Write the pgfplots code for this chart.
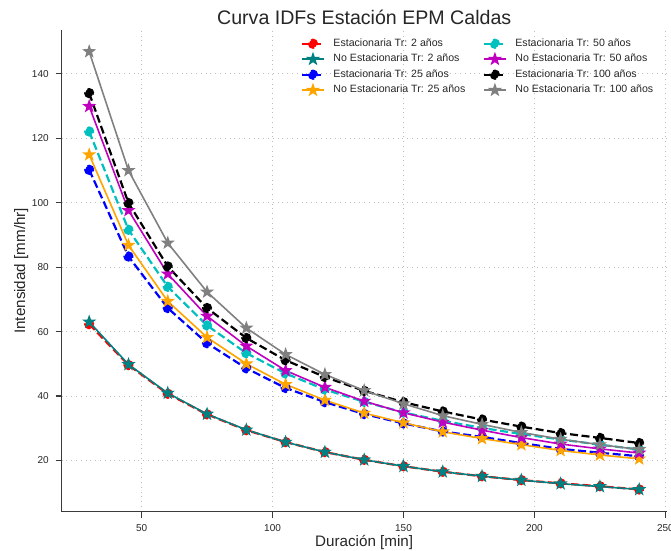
\documentclass[border=0pt]{standalone}
\usepackage{fontspec}
\setmainfont{Liberation Sans}
\usepackage{pgfplots}
\pgfplotsset{compat=1.18}
\usepackage{pgfplotstable}

\definecolor{txt}{HTML}{262626}
\definecolor{spine}{HTML}{3A3A3A}
\definecolor{gridc}{HTML}{BDBDBD}
\definecolor{tealc}{HTML}{008080}
\definecolor{orangec}{HTML}{FFA500}
\definecolor{cyanc}{rgb}{0,0.75,0.75}
\definecolor{magc}{rgb}{0.75,0,0.75}
\definecolor{grayc}{HTML}{808080}

% filled five-pointed star, like matplotlib's '*'
\pgfdeclareplotmark{fstar}{%
  \pgfpathmoveto{\pgfqpointpolar{90}{\pgfplotmarksize}}%
  \pgfpathlineto{\pgfqpointpolar{126}{0.4\pgfplotmarksize}}%
  \pgfpathlineto{\pgfqpointpolar{162}{\pgfplotmarksize}}%
  \pgfpathlineto{\pgfqpointpolar{198}{0.4\pgfplotmarksize}}%
  \pgfpathlineto{\pgfqpointpolar{234}{\pgfplotmarksize}}%
  \pgfpathlineto{\pgfqpointpolar{270}{0.4\pgfplotmarksize}}%
  \pgfpathlineto{\pgfqpointpolar{306}{\pgfplotmarksize}}%
  \pgfpathlineto{\pgfqpointpolar{342}{0.4\pgfplotmarksize}}%
  \pgfpathlineto{\pgfqpointpolar{18}{\pgfplotmarksize}}%
  \pgfpathlineto{\pgfqpointpolar{54}{0.4\pgfplotmarksize}}%
  \pgfpathclose
  \pgfusepathqfillstroke}

% duracion [min] vs intensidad [mm/hr]
\pgfplotstableread{
d    e2    n2    e25   n25   e50   n50   e100  n100
30   62.3  63.0  110.2 114.9 122.1 129.9 134.0 146.9
45   49.6  49.8  83.3  86.8  91.6  97.6  99.9  110.0
60   40.7  40.9  67.3  69.4  73.9  77.9  80.2  87.5
75   34.3  34.4  56.4  58.2  61.9  64.8  67.3  72.3
90   29.4  29.5  48.6  50.0  53.3  55.5  58.0  61.1
105  25.7  25.7  42.5  43.6  47.0  47.9  51.1  52.9
120  22.6  22.6  38.1  38.7  42.0  42.7  45.9  46.7
135  20.2  20.2  34.4  34.7  38.2  38.4  41.6  41.7
150  18.2  18.2  31.5  31.7  34.9  34.8  38.1  37.6
165  16.5  16.5  29.0  28.9  32.3  31.9  35.2  33.9
180  15.1  15.1  27.3  26.8  30.1  29.4  32.7  31.2
195  13.9  13.9  25.4  24.9  28.2  27.1  30.5  28.7
210  12.9  12.8  23.6  23.1  26.5  25.1  28.5  26.6
225  12.0  11.9  22.4  21.7  24.9  23.6  27.0  24.9
240  11.0  11.0  21.3  20.5  23.4  22.3  25.4  23.4
}\idf

\begin{document}
\begin{tikzpicture}
\path[use as bounding box] (-30.85pt,-19.65pt) rectangle (304.65pt,255.85pt);
\begin{axis}[
    at={(0,0)}, anchor=south west,
    scale only axis,
    width=302.5pt, height=240.85pt,
    xmin=19.5, xmax=250.5,
    ymin=4.1, ymax=153.6,
    xtick={50,100,150,200,250},
    ytick={20,40,60,80,100,120,140},
    axis x line*=bottom, axis y line*=left,
    axis line style={spine, line width=0.6pt, -},
    tick style={spine, line width=0.6pt},
    tick align=outside,
    major tick length=3pt,
    grid=major,
    major grid style={gridc, dotted, line width=0.4pt},
    ticklabel style={font=\fontsize{5}{6}\selectfont, text=txt},
    /pgf/number format/assume math mode=true,
    xlabel={Duración [min]},
    ylabel={Intensidad [mm/hr]},
    label style={font=\fontsize{7.6}{9}\selectfont, text=txt},
    xlabel style={yshift=5pt},
    ylabel style={yshift=-5pt},
    title={Curva IDFs Estación EPM Caldas},
    title style={font=\fontsize{9.8}{11}\selectfont, text=txt, yshift=-7pt},
    legend columns=4,
    transpose legend,
    legend cell align=left,
    legend style={at={(0.995,1.0)}, anchor=north east, draw=none, fill=none,
        font=\fontsize{5.3}{6.3}\selectfont, text=txt,
        row sep=-1.6pt,
        /tikz/every odd column/.append style={column sep=2pt},
        /tikz/every even column/.append style={column sep=6.5pt}},
    legend image code/.code={\draw[mark repeat=2,mark phase=2,#1]
        plot coordinates {(0cm,0cm) (0.2cm,0cm) (0.4cm,0cm)};},
    every axis plot/.append style={mark options={solid, line width=0.4pt}},
    dsh/.style={line width=1.1pt, dash pattern=on 4pt off 1.8pt, mark=*, mark size=2pt},
    sld/.style={line width=0.8pt, solid, mark=fstar, mark size=2.5pt},
]
\addplot[dsh, red, mark options={fill=red}] table[x=d, y=e2] {\idf};
\addplot[sld, tealc, mark options={fill=tealc}] table[x=d, y=n2] {\idf};
\addplot[dsh, blue, mark options={fill=blue}] table[x=d, y=e25] {\idf};
\addplot[sld, orangec, mark options={fill=orangec}] table[x=d, y=n25] {\idf};
\addplot[dsh, cyanc, mark options={fill=cyanc}] table[x=d, y=e50] {\idf};
\addplot[sld, magc, mark options={fill=magc}] table[x=d, y=n50] {\idf};
\addplot[dsh, black, mark options={fill=black}] table[x=d, y=e100] {\idf};
\addplot[sld, grayc, mark options={fill=grayc}] table[x=d, y=n100] {\idf};
\legend{Estacionaria Tr: 2 años, No Estacionaria Tr: 2 años,
        Estacionaria Tr: 25 años, No Estacionaria Tr: 25 años,
        Estacionaria Tr: 50 años, No Estacionaria Tr: 50 años,
        Estacionaria Tr: 100 años, No Estacionaria Tr: 100 años}
\end{axis}
\end{tikzpicture}
\end{document}
